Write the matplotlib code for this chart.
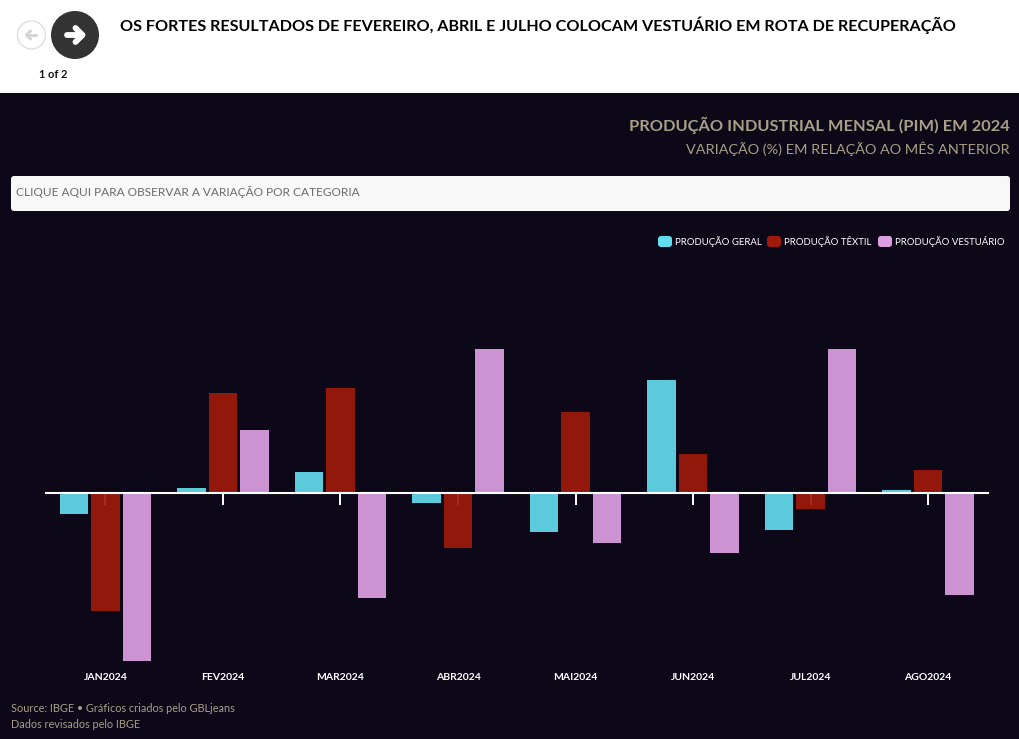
import matplotlib
matplotlib.use('Agg')
import numpy as np
import matplotlib.pyplot as plt
from matplotlib.patches import Circle, FancyBboxPatch, Rectangle

plt.rcParams['font.family'] = ['Lato', 'DejaVu Sans']

months = ['JAN2024', 'FEV2024', 'MAR2024', 'ABR2024', 'MAI2024', 'JUN2024', 'JUL2024', 'AGO2024']
geral = [-0.76, 0.18, 0.76, -0.36, -1.42, 4.11, -1.35, 0.11]
textil = [-4.29, 3.64, 3.80, -2.00, 2.95, 1.42, -0.58, 0.84]
vestuario = [-6.11, 2.29, -3.82, 5.24, -1.82, -2.18, 5.24, -3.71]
series_names = ['PRODUÇÃO GERAL', 'PRODUÇÃO TÊXTIL', 'PRODUÇÃO VESTUÁRIO']

bg = '#0d0817'
tan = '#a89f87'
c_geral = '#62dcef'
c_textil = '#a01a0c'
c_vest = '#dca0e2'

W, H = 1020, 739
fig = plt.figure(figsize=(W/100, H/100), dpi=100, facecolor='white')

# page layer in pixel coordinates
page = fig.add_axes([0, 0, 1, 1])
page.set_xlim(0, W)
page.set_ylim(H, 0)
page.axis('off')
page.add_patch(Rectangle((0, 93), W, H-93, fc=bg, ec='none'))

# nav buttons
page.add_patch(Circle((31.5, 35), 14, fc='white', ec='#dcdcdc', lw=0.9))
page.plot([36, 27], [35, 35], color='#d5d5d5', lw=2.2, solid_capstyle='round')
page.plot([30.5, 26.5, 30.5], [31, 35, 39], color='#d5d5d5', lw=2.2, solid_capstyle='round')
page.add_patch(Circle((75, 35), 24, fc='#333333', ec='none'))
page.plot([67, 82], [35, 35], color='white', lw=4.2, solid_capstyle='round')
page.plot([75.5, 82.5, 75.5], [28, 35, 42], color='white', lw=4.2, solid_capstyle='round', solid_joinstyle='round')
page.text(53, 74, '1 of 2', ha='center', va='center', fontsize=7.9, fontweight='bold', color='#111111')

page.text(120, 25, 'OS FORTES RESULTADOS DE FEVEREIRO, ABRIL E JULHO COLOCAM VESTUÁRIO EM ROTA DE RECUPERAÇÃO',
          ha='left', va='center', fontsize=11.6, fontweight='bold', color='black')
page.text(1010, 125, 'PRODUÇÃO INDUSTRIAL MENSAL (PIM) EM 2024', ha='right', va='center',
          fontsize=11.8, fontweight='bold', color=tan)
page.text(1010, 149, 'VARIAÇÃO (%) EM RELAÇÃO AO MÊS ANTERIOR', ha='right', va='center',
          fontsize=10.4, color=tan)

# dropdown box
page.add_patch(FancyBboxPatch((13, 178), 995, 31, boxstyle='round,pad=2,rounding_size=3',
                              fc='#f8f8f8', ec='none'))
page.text(16, 192, 'CLIQUE AQUI PARA OBSERVAR A VARIAÇÃO POR CATEGORIA', ha='left', va='center',
          fontsize=8.6, color='#6b6b6b')

# legend
leg_x = [658, 767, 878]
leg_tx = [675, 784, 895]
for x0, tx, name, col in zip(leg_x, leg_tx, series_names, [c_geral, c_textil, c_vest]):
    page.add_patch(FancyBboxPatch((x0+2, 238), 10, 7, boxstyle='round,pad=2,rounding_size=3', fc=col, ec='none'))
    page.text(tx, 241.5, name, ha='left', va='center', fontsize=6.9, color='white')

page.text(11, 709, 'Source: IBGE • Gráficos criados pelo GBLjeans', ha='left', va='center', fontsize=7.85, color=tan)
page.text(11, 724, 'Dados revisados pelo IBGE', ha='left', va='center', fontsize=7.85, color=tan)

# chart
top, bottom = 260, 665
left, right = 46, 988
ax = fig.add_axes([left/W, 1-bottom/H, (right-left)/W, (bottom-top)/H])
ax.patch.set_alpha(0)
scale = 27.5
ax.set_ylim(-(bottom-493)/scale, (493-top)/scale)
ax.set_xlim(-0.506, 7.51)

x = np.arange(len(months))
ax.set_axisbelow(True)
ax.bar(x-0.268, geral, 0.245, color=c_geral, alpha=0.92)
ax.bar(x, textil, 0.245, color=c_textil, alpha=0.92)
ax.bar(x+0.268, vestuario, 0.245, color=c_vest, alpha=0.92)

for s in ['top', 'left', 'right']:
    ax.spines[s].set_visible(False)
ax.spines['bottom'].set_position(('data', 0))
ax.spines['bottom'].set_color('white')
ax.spines['bottom'].set_linewidth(1.5)
ax.set_yticks([])
ax.set_xticks(x)
ax.set_xticklabels([])
ax.tick_params(axis='x', length=8.5, width=1.4, color='white', direction='out')

for xi, m in zip(x, months):
    ax.text(xi, -(677.5-493)/scale, m, ha='center', va='center', fontsize=7.5, fontweight='bold',
            color='white', clip_on=False)

fig.savefig('out.png', dpi=100, facecolor=fig.get_facecolor())
